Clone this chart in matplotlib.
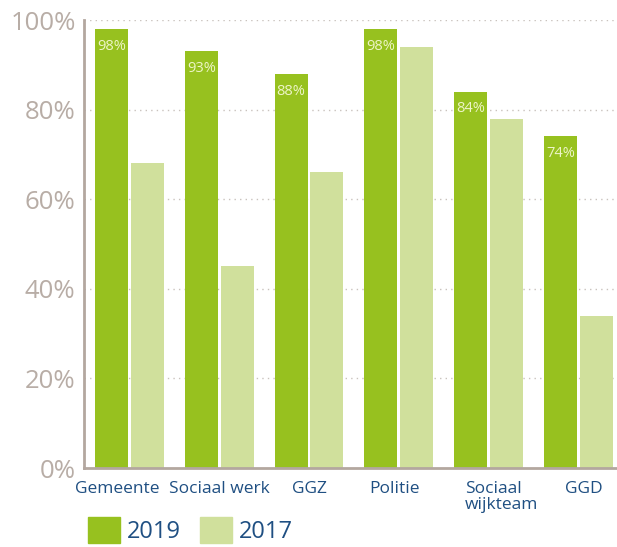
import numpy as np
import matplotlib.pyplot as plt
import matplotlib.transforms as mtransforms
from matplotlib.patches import Patch

categories = ['Gemeente', 'Sociaal werk', 'GGZ', 'Politie', 'Sociaal\nwijkteam', 'GGD']
values_2019 = [98, 93, 88, 98, 84, 74]
values_2017 = [68, 45, 66, 94, 78, 34]
yticks = [0, 20, 40, 60, 80, 100]

# small horizontal nudges (pixels) of the category labels, as in the original layout
label_shift = [-12, 0, 0, -4, 13, 5]

green_dark = '#97c11f'
green_light = '#d0e09c'
axis_col = '#b3a79f'
blue = '#1f4f82'

plt.rcParams['font.family'] = ['Open Sans', 'DejaVu Sans']

fig = plt.figure(figsize=(6.17, 5.47), dpi=100)
ax = fig.add_axes([0.136, 0.1444, 0.864, 0.819])

x = np.arange(len(categories))
w = 0.367
off = 0.2
bars19 = ax.bar(x - off, values_2019, w, color=green_dark, zorder=3)
bars17 = ax.bar(x + off, values_2017, w, color=green_light, zorder=3)

for b, v in zip(bars19, values_2019):
    ax.annotate(f'{v}%', (b.get_x() + b.get_width() / 2, v), xytext=(0, -7),
                textcoords='offset points', ha='center', va='top',
                fontsize=10.5, color='#eef5c8', zorder=4)

ax.set_xlim(-0.507, 5.43)
ax.set_ylim(0, 100)
ax.set_yticks(yticks)
ax.set_yticklabels([f'{t}%' for t in yticks], fontsize=18.5, color='#b8ada6')
ax.set_xticks(x)
ax.set_xticklabels(categories, fontsize=12.5, color=blue, linespacing=1.0,
                   multialignment='left', va='top')
ax.tick_params(axis='y', length=0, pad=6)
ax.tick_params(axis='x', length=0, pad=9)

for lab, dx in zip(ax.get_xticklabels(), label_shift):
    lab.set_transform(lab.get_transform() +
                      mtransforms.ScaledTranslation(dx / 100, 0, fig.dpi_scale_trans))

for t in yticks[1:]:
    ax.axhline(t, color='#c9c2bd', linestyle=(0, (1, 3)), linewidth=1, zorder=1)

for s in ['top', 'right']:
    ax.spines[s].set_visible(False)
for s in ['left', 'bottom']:
    ax.spines[s].set_color(axis_col)
    ax.spines[s].set_linewidth(2)
ax.spines['bottom'].set_zorder(5)

handles = [Patch(color=green_dark, label='2019'), Patch(color=green_light, label='2017')]
fig.legend(handles=handles, loc='lower left', bbox_to_anchor=(0.127, -0.012),
           ncol=2, frameon=False, fontsize=17, labelcolor=blue,
           handlelength=1.35, handleheight=1.35, handletextpad=0.3,
           columnspacing=0.8, borderaxespad=0)

fig.savefig('out.png', dpi=100)
